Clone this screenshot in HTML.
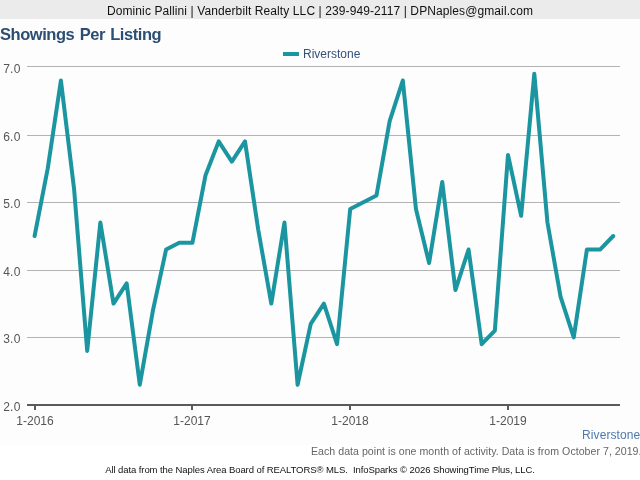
<!DOCTYPE html>
<html><head><meta charset="utf-8">
<style>
div{will-change:transform;}
html,body{margin:0;padding:0;width:640px;height:480px;overflow:hidden;background:#fff;font-family:"Liberation Sans",sans-serif;}
.bg{position:absolute;left:0;top:19px;width:640px;height:426px;background:#fdfdfd;}
.hdr{position:absolute;left:0;top:0;width:640px;height:19px;background:#ebebeb;}
.hdrt{position:absolute;left:0;top:1px;width:640px;color:#111;font-size:12px;line-height:20px;text-align:center;letter-spacing:0.1px;white-space:nowrap;}
.title{position:absolute;left:0px;top:25px;font-size:16.5px;font-weight:bold;color:#2c4e72;white-space:nowrap;letter-spacing:-0.45px;word-spacing:1.2px;}
.leg{position:absolute;left:303px;top:47px;font-size:12px;color:#34517a;white-space:nowrap;}
.legsw{position:absolute;left:283px;top:52px;width:16px;height:4px;background:#1b96a0;}
svg{position:absolute;left:0;top:0;}
.yl{position:absolute;left:0;width:20.6px;text-align:right;font-size:12px;color:#555;line-height:16px;letter-spacing:0.25px;}
.xl{position:absolute;top:413px;width:80px;text-align:center;font-size:12px;color:#555;line-height:16px;}
.riv{position:absolute;right:0px;top:428px;font-size:12px;color:#4d7aab;letter-spacing:0.1px;white-space:nowrap;}
.note{position:absolute;right:-1.5px;top:445px;font-size:10.6px;color:#666;letter-spacing:0.03px;white-space:nowrap;}
.foot{position:absolute;left:0;width:640px;top:464px;text-align:center;font-size:9.5px;color:#111;white-space:pre;letter-spacing:-0.08px;}
</style></head><body>
<div class="bg"></div>
<div class="hdr"></div>
<div class="hdrt">Dominic Pallini | Vanderbilt Realty LLC | 239-949-2117 | DPNaples@gmail.com</div>
<div class="title">Showings Per Listing</div>
<div class="legsw"></div>
<div class="leg">Riverstone</div>
<svg width="640" height="480" viewBox="0 0 640 480">
<rect x="27" y="66" width="593" height="1" fill="#b3b3b3"/>
<rect x="27" y="135" width="593" height="1" fill="#b3b3b3"/>
<rect x="27" y="202" width="593" height="1" fill="#b3b3b3"/>
<rect x="27" y="270" width="593" height="1" fill="#b3b3b3"/>
<rect x="27" y="337" width="593" height="1" fill="#b3b3b3"/>

<rect x="27" y="404" width="593" height="2" fill="#5a5a5a"/>
<rect x="34" y="406" width="2" height="4" fill="#5a5a5a"/>
<rect x="191" y="406" width="2" height="4" fill="#5a5a5a"/>
<rect x="349" y="406" width="2" height="4" fill="#5a5a5a"/>
<rect x="507" y="406" width="2" height="4" fill="#5a5a5a"/>

<polyline points="34.60,236.00 47.75,168.40 60.90,80.52 74.05,188.68 87.20,350.92 100.35,222.48 113.50,303.60 126.65,283.32 139.80,384.72 152.95,310.36 166.10,249.52 179.25,242.76 192.40,242.76 205.55,175.16 218.70,141.36 231.85,161.64 245.00,141.36 258.15,229.24 271.30,303.60 284.45,222.48 297.60,384.72 310.75,323.88 323.90,303.60 337.05,344.16 350.20,208.96 363.35,202.20 376.50,195.44 389.65,121.08 402.80,80.52 415.95,208.96 429.10,263.04 442.25,181.92 455.40,290.08 468.55,249.52 481.70,344.16 494.85,330.64 508.00,154.88 521.15,215.72 534.30,73.76 547.45,222.48 560.60,296.84 573.75,337.40 586.90,249.52 600.05,249.52 613.20,236.00" fill="none" stroke="#1b96a0" stroke-width="4" stroke-linejoin="round" stroke-linecap="round"/>
</svg>
<div class="yl" style="top:61px">7.0</div>
<div class="yl" style="top:129px">6.0</div>
<div class="yl" style="top:196px">5.0</div>
<div class="yl" style="top:264px">4.0</div>
<div class="yl" style="top:331px">3.0</div>
<div class="yl" style="top:399px">2.0</div>

<div class="xl" style="left:-5px">1-2016</div>
<div class="xl" style="left:152px">1-2017</div>
<div class="xl" style="left:310px">1-2018</div>
<div class="xl" style="left:468px">1-2019</div>

<div class="riv">Riverstone</div>
<div class="note">Each data point is one month of activity. Data is from October 7, 2019.</div>
<div class="foot">All data from the Naples Area Board of REALTORS® MLS.  InfoSparks © 2026 ShowingTime Plus, LLC.</div>
</body></html>
